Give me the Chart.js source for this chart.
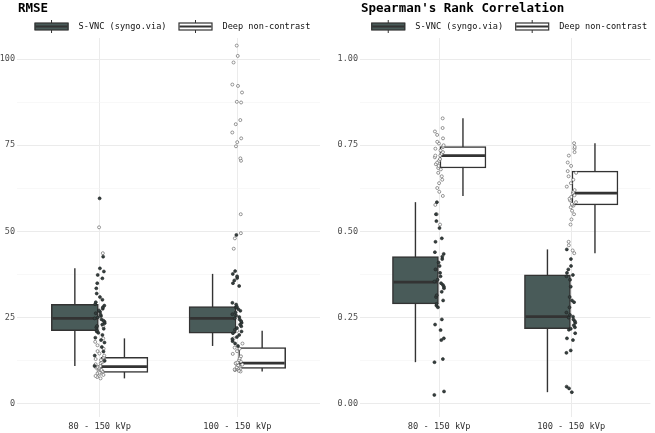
<!DOCTYPE html>
<html>
<head>
<meta charset="utf-8">
<script src="https://cdn.jsdelivr.net/npm/chart.js@4.4.1/dist/chart.umd.min.js"></script>
<style>
  body { margin: 0; background: #fff; }
  #wrap { position: relative; width: 655px; height: 433px; }
  canvas { position: absolute; top: 0; }
</style>
</head>
<body>
<div id="wrap">
  <canvas id="rmse" width="327" height="433" style="left:0"></canvas>
  <canvas id="rho" width="328" height="433" style="left:327px"></canvas>
</div>
<script>
const categories = ['80 - 150 kVp', '100 - 150 kVp'];
const seriesNames = ['S-VNC (syngo.via)', 'Deep non-contrast'];

const rmseTicks = [0, 25, 50, 75, 100];
const rhoTicks = [0, 0.25, 0.5, 0.75, 1];

// box stats per category: [whisker low, q1, median, q3, whisker high]
const rmseSvncBox = [[11.0, 21.2, 24.8, 28.9, 39.3], [16.8, 20.5, 24.8, 28.2, 37.7]];
const rmseDeepBox = [[7.4, 9.1, 10.8, 13.5, 19.0], [9.4, 10.3, 11.8, 16.3, 21.2]];
const rhoSvncBox = [[0.121, 0.29, 0.353, 0.427, 0.585], [0.034, 0.218, 0.253, 0.374, 0.448]];
const rhoDeepBox = [[0.603, 0.684, 0.72, 0.746, 0.828], [0.437, 0.577, 0.611, 0.675, 0.756]];

// individual cases
const rmseSvnc80 = [11.0, 12.5, 14.0, 15.2, 16.5, 17.8, 18.5, 19.2, 20.0, 20.6, 21.0, 21.3, 21.8, 22.2, 22.6, 23.0, 23.4, 23.8, 24.1, 24.5, 24.8, 25.1, 25.5, 25.9, 26.3, 26.7, 27.1, 27.6, 28.0, 28.5, 28.9, 29.5, 30.2, 31.0, 32.0, 33.5, 35.0, 36.4, 37.4, 38.4, 39.3, 42.7, 59.6];
const rmseDeep80 = [7.4, 7.8, 8.1, 8.4, 8.7, 8.9, 9.1, 9.3, 9.5, 9.7, 9.9, 10.1, 10.3, 10.5, 10.7, 10.8, 11.0, 11.2, 11.5, 11.8, 12.1, 12.4, 12.7, 13.0, 13.3, 13.5, 14.0, 14.6, 15.3, 16.0, 17.0, 18.0, 19.0, 22.5, 43.7, 51.2];
const rmseSvnc100 = [16.8, 17.5, 18.2, 18.8, 19.4, 20.0, 20.5, 21.0, 21.5, 22.0, 22.5, 23.0, 23.5, 24.0, 24.5, 24.8, 25.2, 25.6, 26.0, 26.5, 27.0, 27.5, 28.0, 28.2, 28.8, 29.3, 34.2, 35.0, 35.8, 36.5, 37.0, 37.7, 38.5, 49.0];
const rmseDeep100 = [9.4, 9.6, 9.8, 10.0, 10.1, 10.2, 10.3, 10.4, 10.6, 10.8, 11.0, 11.2, 11.4, 11.6, 11.8, 12.0, 12.3, 12.7, 13.2, 13.8, 14.5, 15.3, 16.0, 16.3, 17.5, 19.0, 21.2, 45.0, 48.0, 49.5, 55.0, 70.5, 71.2, 74.7, 75.9, 77.0, 78.7, 81.1, 82.3, 87.4, 87.6, 90.3, 92.2, 92.6, 99.0, 100.9, 103.9];
const rhoSvnc80 = [0.026, 0.036, 0.121, 0.13, 0.185, 0.19, 0.214, 0.23, 0.245, 0.28, 0.285, 0.29, 0.3, 0.31, 0.315, 0.325, 0.335, 0.34, 0.345, 0.35, 0.355, 0.36, 0.37, 0.38, 0.39, 0.4, 0.41, 0.42, 0.427, 0.435, 0.44, 0.47, 0.48, 0.51, 0.53, 0.55, 0.585];
const rhoDeep80 = [0.52, 0.55, 0.577, 0.603, 0.615, 0.626, 0.64, 0.65, 0.66, 0.67, 0.68, 0.684, 0.69, 0.695, 0.7, 0.705, 0.71, 0.715, 0.72, 0.72, 0.725, 0.73, 0.735, 0.74, 0.745, 0.746, 0.75, 0.755, 0.76, 0.77, 0.78, 0.79, 0.8, 0.828];
const rhoSvnc100 = [0.034, 0.045, 0.05, 0.148, 0.155, 0.185, 0.19, 0.205, 0.215, 0.218, 0.222, 0.228, 0.235, 0.24, 0.245, 0.25, 0.253, 0.258, 0.265, 0.28, 0.295, 0.3, 0.31, 0.34, 0.36, 0.37, 0.374, 0.38, 0.39, 0.4, 0.42, 0.448];
const rhoDeep100 = [0.437, 0.445, 0.46, 0.47, 0.52, 0.535, 0.55, 0.56, 0.57, 0.575, 0.577, 0.58, 0.585, 0.59, 0.595, 0.6, 0.605, 0.611, 0.615, 0.62, 0.63, 0.64, 0.65, 0.66, 0.67, 0.675, 0.69, 0.7, 0.72, 0.73, 0.74, 0.745, 0.756];

const FONT = '"DejaVu Sans Mono", "Liberation Mono", monospace';
const boxFill = ['#495b59', '#ffffff'];
const pointFill = ['#33403f', '#ffffff'];
const pointEdge = ['#222222', '#555555'];
const dodge = [-0.18, 0.18];

// fixed (hash based) spread so the dots don't sit on one line
const jitter = k => {
  const h = Math.sin(k * 12.9898 + 4.1414) * 43758.5453;
  return (h - Math.floor(h) - 0.5) * 0.075;
};

const boxPlugin = {
  id: 'boxes',
  beforeDatasetDraw(chart, args) {
    if (args.meta.type !== 'bar') return;
    const ctx = chart.ctx, y = chart.scales.y;
    const ds = chart.data.datasets[args.index];
    ctx.save();
    ctx.strokeStyle = '#333333';
    ctx.lineWidth = 1.4;
    args.meta.data.forEach((bar, i) => {
      const st = ds.data[i].stats;
      ctx.beginPath();
      ctx.moveTo(bar.x, y.getPixelForValue(st[0]));
      ctx.lineTo(bar.x, y.getPixelForValue(st[4]));
      ctx.stroke();
    });
    ctx.restore();
  },
  afterDatasetDraw(chart, args) {
    if (args.meta.type !== 'bar') return;
    const ctx = chart.ctx, y = chart.scales.y;
    const ds = chart.data.datasets[args.index];
    ctx.save();
    ctx.strokeStyle = '#333333';
    ctx.lineWidth = 2.8;
    args.meta.data.forEach((bar, i) => {
      const { x, width } = bar.getProps(['x', 'width'], true);
      const py = y.getPixelForValue(ds.data[i].stats[2]);
      ctx.beginPath();
      ctx.moveTo(x - width / 2 + 1, py);
      ctx.lineTo(x + width / 2 - 1, py);
      ctx.stroke();
    });
    ctx.restore();
  }
};

const headerPlugin = {
  id: 'header',
  afterDraw(chart, args, o) {
    const ctx = chart.ctx, area = chart.chartArea;
    ctx.save();
    ctx.fillStyle = '#000';
    ctx.font = 'bold 12.5px ' + FONT;
    ctx.textBaseline = 'alphabetic';
    ctx.fillText(o.title, area.left + 1, 12);

    ctx.font = '8.6px ' + FONT;
    const iconW = 34, gap = 10, sep = 12, cy = 26.5;
    const widths = seriesNames.map(n => ctx.measureText(n).width);
    const total = widths.reduce((a, w) => a + iconW + gap + w, 0) + sep;
    let x = (area.left + area.right) / 2 + 4 - total / 2;
    seriesNames.forEach((name, s) => {
      ctx.strokeStyle = '#333333';
      ctx.lineWidth = 1;
      ctx.beginPath();
      ctx.moveTo(x + iconW / 2, cy - 6.5);
      ctx.lineTo(x + iconW / 2, cy + 6.5);
      ctx.stroke();
      ctx.fillStyle = boxFill[s];
      ctx.fillRect(x, cy - 3.5, iconW, 7);
      ctx.lineWidth = 1.2;
      ctx.strokeRect(x + 0.5, cy - 3.5, iconW - 1, 7);
      ctx.lineWidth = 2;
      ctx.beginPath();
      ctx.moveTo(x + 1, cy);
      ctx.lineTo(x + iconW - 1, cy);
      ctx.stroke();
      ctx.fillStyle = '#111';
      ctx.textBaseline = 'middle';
      ctx.fillText(name, x + iconW + gap, cy);
      x += iconW + gap + widths[s] + sep;
    });
    ctx.restore();
  }
};

function makePanel(id, o) {
  const datasets = [];
  // points first -> drawn on top of the boxes
  seriesNames.forEach((name, s) => {
    const pts = [];
    o.points[s].forEach((vals, i) => {
      vals.forEach((v, k) => pts.push({ x: i + 1 + jitter(k + 50 * s + 200 * i), y: v }));
    });
    datasets.push({
      type: 'scatter', label: name + ' cases', data: pts,
      pointRadius: 1.5, backgroundColor: pointFill[s], borderColor: pointEdge[s], borderWidth: 0.6
    });
  });
  seriesNames.forEach((name, s) => {
    datasets.push({
      type: 'bar', label: name,
      data: o.boxes[s].map((b, i) => ({ x: i + 1 + dodge[s], y: [b[1], b[3]], stats: b })),
      backgroundColor: boxFill[s], borderColor: '#333333', borderWidth: 1.5,
      borderSkipped: false, barThickness: o.boxWidth, grouped: false
    });
  });

  const minor = o.ticks.slice(1).map((t, i) => (t + o.ticks[i]) / 2);
  const allTicks = o.ticks.concat(minor).sort((a, b) => a - b);

  return new Chart(document.getElementById(id), {
    type: 'bar',
    data: { datasets },
    plugins: [boxPlugin, headerPlugin],
    options: {
      responsive: false,
      animation: false,
      events: [],
      layout: { padding: { top: 38, right: o.padRight, left: 0, bottom: 0 } },
      plugins: {
        legend: { display: false },
        tooltip: { enabled: false },
        header: { title: o.title }
      },
      scales: {
        x: {
          type: 'linear', min: 0.4, max: 2.6, offset: false,
          afterBuildTicks: s => { s.ticks = categories.map((c, i) => ({ value: i + 1 })); },
          afterFit: s => { s.height = 16; },
          ticks: {
            autoSkip: false, maxRotation: 0, padding: 5, color: '#333333',
            font: { family: FONT, size: 8.7 },
            callback: v => categories[Math.round(v) - 1]
          },
          grid: { color: '#ebebeb', lineWidth: 1, drawTicks: false, offset: false },
          border: { display: false }
        },
        y: {
          min: o.min, max: o.max,
          afterBuildTicks: s => { s.ticks = allTicks.map(v => ({ value: v })); },
          afterFit: s => { s.width = o.axisWidth; },
          ticks: {
            autoSkip: false, padding: 2, color: '#4d4d4d',
            font: { family: FONT, size: 8.5 },
            callback: v => o.ticks.includes(v) ? o.fmt(v) : ''
          },
          grid: {
            drawTicks: false,
            color: c => o.ticks.includes(c.tick.value) ? '#ebebeb' : '#f3f3f3',
            lineWidth: c => o.ticks.includes(c.tick.value) ? 1 : 0.6
          },
          border: { display: false }
        }
      }
    }
  });
}

makePanel('rmse', {
  title: 'RMSE',
  boxes: [rmseSvncBox, rmseDeepBox],
  points: [[rmseSvnc80, rmseSvnc100], [rmseDeep80, rmseDeep100]],
  ticks: rmseTicks, fmt: v => String(v),
  min: -3.8, max: 106.1, axisWidth: 17, padRight: 7, boxWidth: 47
});

makePanel('rho', {
  title: "Spearman's Rank Correlation",
  boxes: [rhoSvncBox, rhoDeepBox],
  points: [[rhoSvnc80, rhoSvnc100], [rhoDeep80, rhoDeep100]],
  ticks: rhoTicks, fmt: v => v.toFixed(2),
  min: -0.038, max: 1.061, axisWidth: 33, padRight: 0, boxWidth: 46
});
</script>
</body>
</html>
